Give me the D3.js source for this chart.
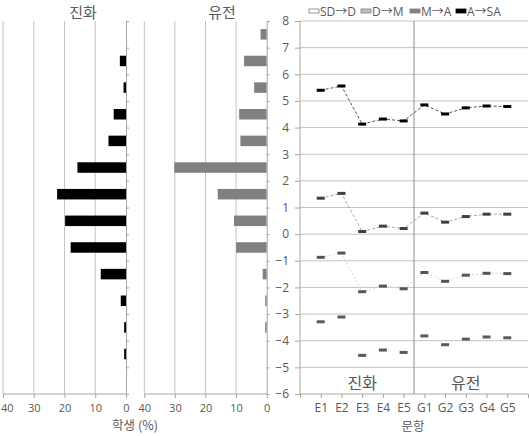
<!DOCTYPE html>
<html><head><meta charset="utf-8">
<script src="https://cdn.jsdelivr.net/npm/d3@7/dist/d3.min.js"></script>
<style>
body{margin:0;background:#fff;}
svg{display:block;}
text{font-family:"Open Sans","Noto Sans CJK KR",sans-serif;fill:#595959;}
.kr{font-family:"Noto Sans CJK KR","Noto Sans",sans-serif;}
</style></head><body>
<script>
// ---- data ----
const bins = [7.5, 6.5, 5.5, 4.5, 3.5, 2.5, 1.5, 0.5, -0.5, -1.5, -2.5, -3.5, -4.5, -5.5];
const evoPct = [0, 2.0, 0.8, 4.0, 5.7, 15.8, 22.4, 19.8, 18.0, 8.2, 1.7, 0.6, 0.6, 0];
const genPct = [2.0, 7.4, 4.1, 9.0, 8.6, 30.2, 16.0, 10.7, 10.0, 1.3, 0.5, 0.5, 0, 0];
const pctTicks = [40, 30, 20, 10, 0];

const items = ["E1","E2","E3","E4","E5","G1","G2","G3","G4","G5"];
const sdD  = [-3.29,-3.11,-4.55,-4.35,-4.44,-3.82,-4.15,-3.94,-3.86,-3.89];
const dM   = [-0.87,-0.71,-2.16,-1.95,-2.05,-1.44,-1.77,-1.54,-1.47,-1.48];
const mA   = [1.35,1.53,0.10,0.30,0.21,0.79,0.45,0.66,0.75,0.75];
const aSA  = [5.40,5.56,4.13,4.32,4.25,4.85,4.51,4.74,4.81,4.79];
const seriesNames = ["SD\u2192D","D\u2192M","M\u2192A","A\u2192SA"];
const yTicks = d3.range(-6, 9);

const W = 531, H = 436;
const svg = d3.select("body").append("svg").attr("width", W).attr("height", H);

const y = d3.scaleLinear().domain([-6, 8]).range([394, 21]);
const gridC = "#c4c4c4", axisC = "#a6a6a6";

// ---- left bar panels ----
function barPanel(x0, x1, vals, color, title, titleX) {
  const x = d3.scaleLinear().domain([40, 0]).range([x0, x1]);
  const g = svg.append("g");
  g.selectAll(".gv").data(pctTicks.filter(d => d !== 0)).join("line")
    .attr("x1", d => x(d)).attr("x2", d => x(d)).attr("y1", y(8)).attr("y2", y(-6))
    .attr("stroke", gridC).attr("stroke-width", 1);
  const bh = 10.5;
  g.selectAll("rect").data(bins.map((b, i) => ({b, v: vals[i]})).filter(d => d.v > 0)).join("rect")
    .attr("x", d => x(d.v)).attr("width", d => x(0) - x(d.v))
    .attr("y", d => y(d.b) - bh / 2).attr("height", bh)
    .attr("fill", color);
  const ay = d3.axisRight(y).tickValues(yTicks).tickSize(3).tickFormat("");
  const ag = g.append("g").attr("transform", `translate(${x(0)},0)`).call(ay);
  ag.select(".domain").attr("stroke", axisC);
  ag.selectAll(".tick line").attr("stroke", axisC);
  const ax = d3.axisBottom(x).tickValues(pctTicks).tickSize(4).tickPadding(6);
  const bg = g.append("g").attr("transform", `translate(0,${y(-6)})`).call(ax);
  bg.select(".domain").attr("stroke", axisC).attr("d", `M${x0},0H${x1}`);
  bg.selectAll(".tick line").attr("stroke", axisC);
  bg.selectAll(".tick text").attr("font-size", 11).attr("fill", "#595959")
    .style("font-family", "'Open Sans',sans-serif");
  bg.selectAll(".tick text").filter(d => d === 40 && x0 < 10)
    .attr("text-anchor", "start").attr("x", -x0 + 0.5);
  svg.append("text").attr("class", "kr").attr("x", titleX).attr("y", 17.5)
    .attr("text-anchor", "middle").attr("font-size", 15).text(title);
}
barPanel(3, 126, evoPct, "#000", "진화", 83);
barPanel(144.3, 266.7, genPct, "#808080", "유전", 222);
svg.append("text").attr("class", "kr").attr("x", 135).attr("y", 430)
  .attr("text-anchor", "middle").attr("font-size", 12.5).text("학생 (%)");

// ---- right panel ----
const x = d3.scaleLinear().domain([0, 11]).range([300, 528]);
const rg = svg.append("g");
rg.selectAll(".gh").data(yTicks.filter(d => d !== -6)).join("line")
  .attr("x1", 300).attr("x2", 528).attr("y1", d => y(d)).attr("y2", d => y(d))
  .attr("stroke", gridC);
rg.append("line").attr("x1", x(5.5)).attr("x2", x(5.5)).attr("y1", y(8)).attr("y2", y(-6))
  .attr("stroke", "#8c8c8c");
const yAx = rg.append("g").attr("transform", "translate(300,0)")
  .call(d3.axisLeft(y).tickValues(yTicks).tickSize(5).tickPadding(6));
yAx.select(".domain").attr("stroke", axisC).attr("d", `M0,${y(8)}V${y(-6)}`);
yAx.selectAll(".tick line").attr("stroke", axisC);
yAx.selectAll(".tick text").attr("font-size", 12).attr("fill", "#595959")
  .style("font-family", "'Open Sans',sans-serif");
const xAx = rg.append("g").attr("transform", `translate(0,${y(-6)})`)
  .call(d3.axisBottom(x).tickValues(d3.range(0, 12)).tickSize(4).tickPadding(5)
    .tickFormat(d => (d >= 1 && d <= 10) ? items[d - 1] : ""));
xAx.select(".domain").attr("stroke", axisC).attr("d", "M300,0H528");
xAx.selectAll(".tick line").attr("stroke", axisC);
xAx.selectAll(".tick text").attr("font-size", 12).attr("fill", "#595959")
  .style("font-family", "'Open Sans',sans-serif");

rg.append("text").attr("class", "kr").attr("x", x(3)).attr("y", 389)
  .attr("text-anchor", "middle").attr("font-size", 16).text("진화");
rg.append("text").attr("class", "kr").attr("x", x(8)).attr("y", 389)
  .attr("text-anchor", "middle").attr("font-size", 16).text("유전");
svg.append("text").attr("class", "kr").attr("x", 413).attr("y", 431)
  .attr("text-anchor", "middle").attr("font-size", 12.5).text("문항");

const series = [
  {vals: sdD, line: "none", dash: null, mk: "#5a5a5a"},
  {vals: dM, line: "#d4d4d4", dash: "2,2", mk: "#555"},
  {vals: mA, line: "#a8a8a8", dash: "3,2", mk: "#404040"},
  {vals: aSA, line: "#555", dash: "3,2", mk: "#000"}
];
const line = d3.line().x((d, i) => x(i + 1)).y(d => y(d));
series.forEach(s => {
  if (s.line !== "none") {
    rg.append("path").attr("d", line(s.vals)).attr("fill", "none")
      .attr("stroke", s.line).attr("stroke-width", 1).attr("stroke-dasharray", s.dash);
  }
  rg.selectAll(null).data(s.vals).join("rect")
    .attr("x", (d, i) => x(i + 1) - 4).attr("y", d => y(d) - 1.5)
    .attr("width", 8).attr("height", 3).attr("fill", s.mk);
});

const legFill = ["#fff", "#c0c0c0", "#808080", "#000"];
const legX = [309, 361, 410, 456];
seriesNames.forEach((n, i) => {
  svg.append("rect").attr("x", legX[i]).attr("y", 9).attr("width", 10).attr("height", 4)
    .attr("fill", legFill[i]).attr("stroke", i < 3 ? "#7f7f7f" : "#000").attr("stroke-width", 0.8);
  svg.append("text").attr("x", legX[i] + 11).attr("y", 15.5).attr("font-size", 12).text(n);
});
</script>
</body></html>
